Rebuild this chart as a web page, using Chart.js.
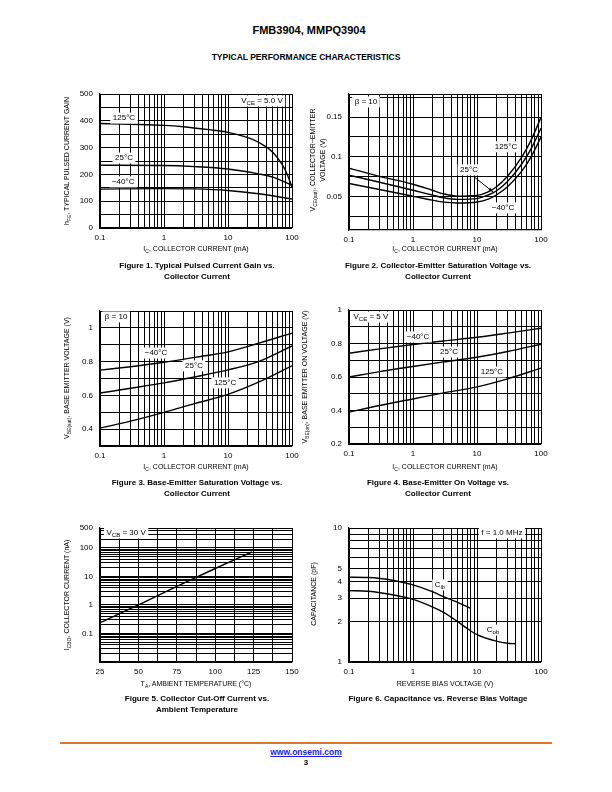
<!DOCTYPE html>
<html>
<head>
<meta charset="utf-8">
<script src="https://cdn.jsdelivr.net/npm/chart.js@4.4.1/dist/chart.umd.min.js"></script>
<style>
body { margin:0; width:612px; height:792px; position:relative; background:#fff; font-family:"Liberation Sans", Arial, sans-serif; color:#000; overflow:hidden; }
.abs { position:absolute; white-space:nowrap; }
.c { transform:translate(-50%,-50%); }
.rot { transform:translate(-50%,-50%) rotate(-90deg); text-align:center; }
.t { font-size:7px; line-height:10px; }
.cap { font-size:8px; font-weight:bold; text-align:center; line-height:11px; transform:translateX(-50%); }
sub { font-size:5px; vertical-align:-1.5px; line-height:0; }
canvas { position:absolute; }
</style>
</head>
<body>
<div class="abs c" style="left:309px;top:30px;font-size:11px;font-weight:bold">FMB3904, MMPQ3904</div>
<div class="abs c" style="left:306px;top:57px;font-size:8.5px;font-weight:bold">TYPICAL PERFORMANCE CHARACTERISTICS</div>

<canvas id="c1"></canvas><canvas id="c2"></canvas>
<canvas id="c3"></canvas><canvas id="c4"></canvas>
<canvas id="c5"></canvas><canvas id="c6"></canvas>

<!-- axis titles -->
<div class="abs t rot" style="left:67px;top:161px">h<sub>FE</sub>, TYPICAL PULSED CURRENT GAIN</div>
<div class="abs t c" style="left:196px;top:249px">I<sub>C</sub>, COLLECTOR CURRENT (mA)</div>
<div class="abs t rot" style="left:318px;top:160px">V<sub>CE(sat)</sub>, COLLECTOR−EMITTER<br>VOLTAGE (V)</div>
<div class="abs t c" style="left:445px;top:249px">I<sub>C</sub>, COLLECTOR CURRENT (mA)</div>
<div class="abs t rot" style="left:67px;top:378px">V<sub>BE(sat)</sub>, BASE EMITTER VOLTAGE (V)</div>
<div class="abs t c" style="left:196px;top:467px">I<sub>C</sub>, COLLECTOR CURRENT (mA)</div>
<div class="abs t rot" style="left:305px;top:377px">V<sub>BE(on)</sub>, BASE EMITTER ON VOLTAGE (V)</div>
<div class="abs t c" style="left:445px;top:467px">I<sub>C</sub>, COLLECTOR CURRENT (mA)</div>
<div class="abs t rot" style="left:67px;top:595px">I<sub>CBO</sub>, COLLECTOR CURRENT (nA)</div>
<div class="abs t c" style="left:196px;top:684px">T<sub>A</sub>, AMBIENT TEMPERATURE (°C)</div>
<div class="abs t rot" style="left:314px;top:594px">CAPACITANCE (pF)</div>
<div class="abs t c" style="left:445px;top:684px">REVERSE BIAS VOLTAGE (V)</div>

<!-- captions -->
<div class="abs cap" style="left:197px;top:260px">Figure 1. Typical Pulsed Current Gain vs.<br>Collector Current</div>
<div class="abs cap" style="left:438px;top:260px">Figure 2. Collector-Emitter Saturation Voltage vs.<br>Collector Current</div>
<div class="abs cap" style="left:197px;top:477px">Figure 3. Base-Emitter Saturation Voltage vs.<br>Collector Current</div>
<div class="abs cap" style="left:438px;top:477px">Figure 4. Base-Emitter On Voltage vs.<br>Collector Current</div>
<div class="abs cap" style="left:197px;top:693px">Figure 5. Collector Cut-Off Current vs.<br>Ambient Temperature</div>
<div class="abs cap" style="left:438px;top:693px">Figure 6. Capacitance vs. Reverse Bias Voltage</div>

<div class="abs" style="left:60px;top:742px;width:492px;height:1.5px;background:#d8782f"></div>
<div class="abs c" style="left:306px;top:752px;font-size:8.5px;font-weight:bold;color:#1a1aee;text-decoration:underline">www.onsemi.com</div>
<div class="abs c" style="left:306px;top:762px;font-size:8px;font-weight:bold">3</div>

<script>
// ---- data ----
// Fig 1: hFE vs Ic
const icGain125 = [0.1, 0.3, 1, 2, 5, 10, 20, 30, 50, 70, 85, 100];
const hfe125    = [390, 387, 383, 378, 367, 357, 338, 320, 283, 237, 198, 152];
const icGain25  = [0.1, 1, 3, 10, 30, 50, 100];
const hfe25     = [234, 233, 229, 220, 202, 190, 160];
const icGainM40 = [0.1, 1, 3, 10, 30, 100];
const hfeM40    = [145, 147, 146, 140, 128, 108];

// Fig 2: VCE(sat) vs Ic
const icSat    = [0.1, 0.3, 1, 2, 3, 5, 10, 15, 20, 30, 50, 70, 100];
const vceSat125 = [0.0857, 0.0755, 0.0655, 0.058, 0.0535, 0.0505, 0.0515, 0.056, 0.062, 0.0755, 0.0995, 0.121, 0.1496];
const vceSat25  = [0.0769, 0.068, 0.058, 0.052, 0.0485, 0.0465, 0.0475, 0.052, 0.057, 0.069, 0.091, 0.11, 0.136];
const vceSatM40 = [0.0664, 0.059, 0.0505, 0.0455, 0.043, 0.042, 0.0432, 0.0468, 0.052, 0.0625, 0.082, 0.1, 0.1248];

// Fig 3: VBE(sat) vs Ic
const icBe = [0.1, 0.3, 1, 3, 10, 30, 100];
const vbeSatM40 = [0.7495, 0.77, 0.796, 0.825, 0.858, 0.909, 0.969];
const vbeSat25  = [0.614, 0.642, 0.674, 0.709, 0.751, 0.8, 0.893];
const vbeSat125 = [0.406, 0.447, 0.499, 0.551, 0.606, 0.678, 0.775];

// Fig 4: VBE(on) vs Ic
const vbeOnM40 = [0.742, 0.768, 0.794, 0.815, 0.837, 0.862, 0.891];
const vbeOn25  = [0.6, 0.632, 0.663, 0.69, 0.718, 0.752, 0.796];
const vbeOn125 = [0.39, 0.43, 0.469, 0.505, 0.541, 0.589, 0.653];

// Fig 5: ICBO vs TA
const tempA = [25, 50, 75, 100, 124];
const icbo  = [0.24, 1.0, 4.5, 19, 72];

// Fig 6: capacitance vs reverse bias
const vrIb = [0.1, 0.2, 0.5, 1, 2, 3, 5, 8];
const cib  = [4.29, 4.27, 4.06, 3.76, 3.35, 3.07, 2.79, 2.51];
const vrOb = [0.1, 0.2, 0.5, 1, 2, 3, 5, 7, 10, 20, 30, 40];
const cob  = [3.41, 3.37, 3.16, 2.93, 2.58, 2.35, 2.0, 1.78, 1.60, 1.43, 1.38, 1.37];

// tick labels
const icLabels = [0.1, 1, 10, 100];
const gainLabels = [0, 100, 200, 300, 400, 500];
const satLabels = [0.05, 0.1, 0.15];
const vbeSatLabels = [0.4, 0.6, 0.8, 1];
const vbeOnLabels = [0.2, 0.4, 0.6, 0.8, 1];
const tempLabels = [25, 50, 75, 100, 125, 150];
const icboLabels = [0.1, 1, 10, 100, 500];
const capLabels = [1, 2, 3, 4, 5, 10];

// gridline helpers
function logGrid(lo, hi) {
  const g = [];
  for (let d = lo; d < hi * 0.999; d *= 10)
    for (let k = 1; k < 10; k++) { const v = +(k * d).toPrecision(3); if (v <= hi) g.push(v); }
  if (g[g.length - 1] != hi) g.push(hi);
  return g;
}
function linGrid(lo, hi, step, extra) {
  const g = [];
  for (let v = lo; v <= hi + 1e-9; v += step) g.push(+v.toPrecision(4));
  return g.concat(extra || []);
}

const PL = 50, PT = 8, PR = 14, PB = 24;

function axis(a, dir) {
  return {
    type: a.type, min: a.min, max: a.max, position: dir == 'x' ? 'bottom' : 'left',
    afterBuildTicks: s => { s.ticks = a.grid.map(v => ({ value: v })); },
    afterFit: s => {
      if (dir == 'x') s.height = PB; else s.width = PL;
      s.paddingLeft = s.paddingRight = s.paddingTop = s.paddingBottom = 0;
    },
    grid: { color: '#000', lineWidth: 1, drawTicks: false },
    border: { color: '#000', width: 1.2 },
    ticks: {
      autoSkip: false, maxRotation: 0, padding: dir == 'x' ? 5 : 7, color: '#000',
      font: { family: 'Liberation Sans', size: 8 },
      callback: v => a.labels.some(l => Math.abs(l - v) < 1e-9) ? String(v) : ''
    }
  };
}

function drawRich(ctx, parts, cx, cy) {
  let w = 0;
  const f = p => (p[1] ? 6 : 8) + 'px "Liberation Sans"';
  parts.forEach(p => { ctx.font = f(p); w += ctx.measureText(p[0]).width; });
  let x = cx - w / 2;
  ctx.fillStyle = '#fff';
  ctx.fillRect(x - 2.5, cy - 5.5, w + 5, 11);
  ctx.fillStyle = '#000';
  ctx.textBaseline = 'middle';
  parts.forEach(p => { ctx.font = f(p); ctx.fillText(p[0], x, cy + (p[1] ? 2 : 0)); x += ctx.measureText(p[0]).width; });
}

function notePlugin(notes) {
  return {
    id: 'notes',
    afterDatasetsDraw(chart) {
      const ctx = chart.ctx, xs = chart.scales.x, ys = chart.scales.y;
      ctx.save();
      for (const n of notes) {
        if (n.arrow) {
          const x1 = xs.getPixelForValue(n.arrow[0]), y1 = ys.getPixelForValue(n.arrow[1]);
          const x2 = xs.getPixelForValue(n.arrow[2]), y2 = ys.getPixelForValue(n.arrow[3]);
          const a = Math.atan2(y2 - y1, x2 - x1);
          ctx.strokeStyle = '#000'; ctx.lineWidth = 1;
          ctx.beginPath(); ctx.moveTo(x1, y1); ctx.lineTo(x2, y2); ctx.stroke();
          ctx.fillStyle = '#000'; ctx.beginPath();
          ctx.moveTo(x2, y2);
          ctx.lineTo(x2 - 5 * Math.cos(a - 0.35), y2 - 5 * Math.sin(a - 0.35));
          ctx.lineTo(x2 - 5 * Math.cos(a + 0.35), y2 - 5 * Math.sin(a + 0.35));
          ctx.fill();
          continue;
        }
        drawRich(ctx, n.parts, xs.getPixelForValue(n.x), ys.getPixelForValue(n.y));
      }
      ctx.restore();
    }
  };
}

function makeChart(id, box, xa, ya, sets, notes) {
  const cv = document.getElementById(id);
  cv.width = box[2] + PL + PR; cv.height = box[3] + PT + PB;
  cv.style.left = (box[0] - PL) + 'px'; cv.style.top = (box[1] - PT) + 'px';
  new Chart(cv, {
    type: 'line',
    data: {
      datasets: sets.map(s => ({
        data: s[0].map((x, i) => ({ x: x, y: s[1][i] })),
        borderColor: '#000', borderWidth: 1.4, pointRadius: 0,
        cubicInterpolationMode: 'monotone', fill: false
      }))
    },
    options: {
      responsive: false, animation: false, events: [],
      layout: { padding: { left: 0, top: PT, right: PR, bottom: 0 } },
      plugins: { legend: { display: false }, tooltip: { enabled: false } },
      scales: { x: axis(xa, 'x'), y: axis(ya, 'y') }
    },
    plugins: [notePlugin(notes)]
  });
}

const icAxis = { type: 'logarithmic', min: 0.1, max: 100, grid: logGrid(0.1, 100), labels: icLabels };

makeChart('c1', [100, 94, 192, 134], icAxis,
  { type: 'linear', min: 0, max: 500, grid: linGrid(0, 500, 50), labels: gainLabels },
  [[icGain125, hfe125], [icGain25, hfe25], [icGainM40, hfeM40]],
  [{ x: 34, y: 474, parts: [['V', 0], ['CE', 1], [' = 5.0 V', 0]] },
   { x: 0.237, y: 410, parts: [['125°C', 0]] },
   { x: 0.237, y: 261, parts: [['25°C', 0]] },
   { x: 0.23, y: 172, parts: [['−40°C', 0]] }]);

makeChart('c2', [349, 94, 192, 136], icAxis,
  { type: 'linear', min: 0.008, max: 0.179, grid: linGrid(0.025, 0.175, 0.025, [0.179]), labels: satLabels },
  [[icSat, vceSat125], [icSat, vceSat25], [icSat, vceSatM40]],
  [{ x: 0.184, y: 0.169, parts: [['β = 10', 0]] },
   { x: 28.4, y: 0.1126, parts: [['125°C', 0]] },
   { arrow: [9.0, 0.0748, 17.8, 0.0559] },
   { x: 7.5, y: 0.0836, parts: [['25°C', 0]] },
   { x: 25.5, y: 0.0358, parts: [['−40°C', 0]] }]);

makeChart('c3', [100, 311, 192, 135], icAxis,
  { type: 'linear', min: 0.3, max: 1.1, grid: linGrid(0.3, 1.1, 0.1), labels: vbeSatLabels },
  [[icBe, vbeSatM40], [icBe, vbeSat25], [icBe, vbeSat125]],
  [{ x: 0.178, y: 1.065, parts: [['β = 10', 0]] },
   { x: 0.75, y: 0.851, parts: [['−40°C', 0]] },
   { x: 2.94, y: 0.775, parts: [['25°C', 0]] },
   { x: 9.0, y: 0.674, parts: [['125°C', 0]] }]);

makeChart('c4', [349, 310, 192, 134], icAxis,
  { type: 'linear', min: 0.2, max: 1, grid: linGrid(0.2, 1, 0.1), labels: vbeOnLabels },
  [[icBe, vbeOnM40], [icBe, vbeOn25], [icBe, vbeOn125]],
  [{ x: 0.22, y: 0.958, parts: [['V', 0], ['CE', 1], [' = 5 V', 0]] },
   { x: 1.2, y: 0.839, parts: [['−40°C', 0]] },
   { x: 3.65, y: 0.749, parts: [['25°C', 0]] },
   { x: 17.1, y: 0.63, parts: [['125°C', 0]] }]);

makeChart('c5', [100, 528, 192, 134],
  { type: 'linear', min: 25, max: 150, grid: linGrid(25, 150, 12.5), labels: tempLabels },
  { type: 'logarithmic', min: 0.01, max: 500, grid: logGrid(0.01, 500), labels: icboLabels },
  [[tempA, icbo]],
  [{ x: 42, y: 334, parts: [['V', 0], ['CB', 1], [' = 30 V', 0]] }]);

makeChart('c6', [349, 528, 192, 134], icAxis,
  { type: 'logarithmic', min: 1, max: 10, grid: logGrid(1, 10), labels: capLabels },
  [[vrIb, cib], [vrOb, cob]],
  [{ x: 24.5, y: 9.18, parts: [['f = 1.0 MHz', 0]] },
   { x: 2.64, y: 3.76, parts: [['C', 0], ['ib', 1]] },
   { x: 17.8, y: 1.73, parts: [['C', 0], ['ob', 1]] }]);
</script>
</body>
</html>
